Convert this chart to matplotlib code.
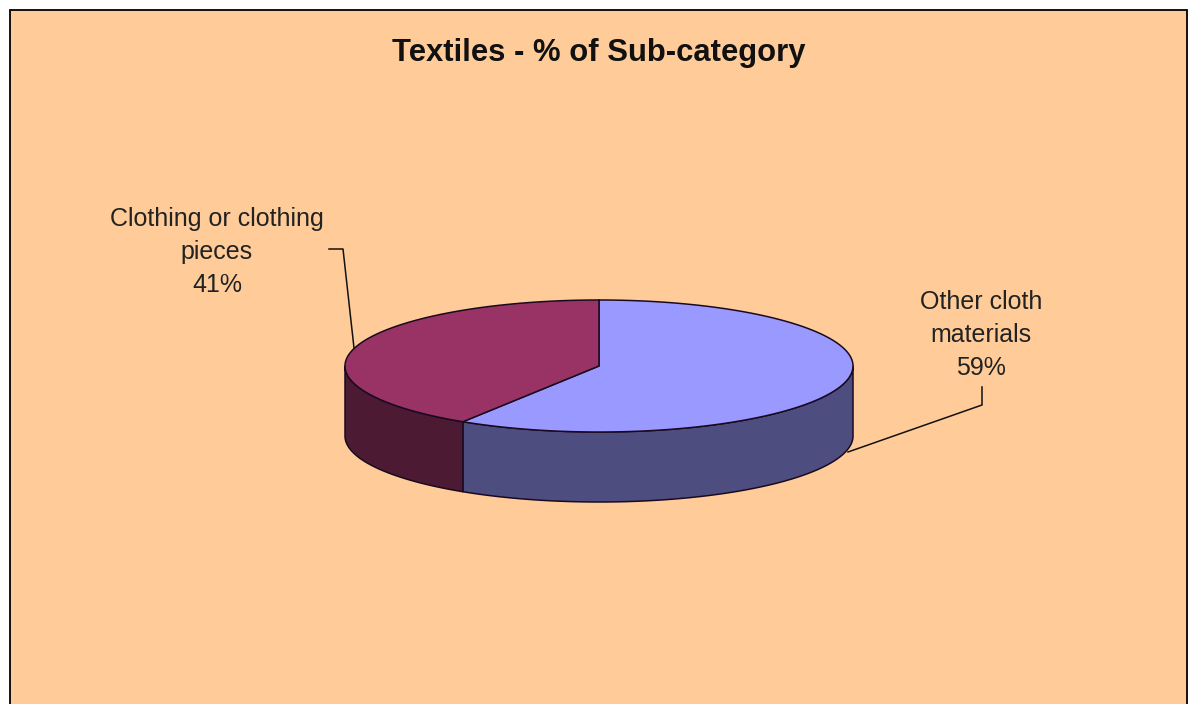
import numpy as np
import matplotlib
matplotlib.use("Agg")
import matplotlib.pyplot as plt
from matplotlib.patches import Rectangle

title = "Textiles - % of Sub-category"
categories = ["Other cloth\nmaterials", "Clothing or clothing\npieces"]
values = [59, 41]
top_colors = ["#9999FF", "#993366"]
side_colors = ["#4D4D80", "#4D1A33"]

W, H = 1190, 704
CX, CY, RX, RY, DEPTH = 599, 366, 254, 66, 70
fig = plt.figure(figsize=(W / 100, H / 100), dpi=100, facecolor="white")
ax = fig.add_axes([0, 0, 1, 1])
ax.set_xlim(0, W)
ax.set_ylim(H, 0)
ax.axis("off")
ax.add_patch(Rectangle((10, 10), 1177, 720, fc="#FFCC99", ec="black", lw=1.3, zorder=0))

fracs = np.array(values) / sum(values)
edges = np.pi / 2 - 2 * np.pi * np.concatenate([[0], np.cumsum(fracs)])

def px(a, r=1.0):
    return CX + RX * r * np.cos(a), CY - RY * r * np.sin(a)

# side walls (visible only for the lower half of the ellipse)
for i in range(len(values)):
    a0, a1 = edges[i], edges[i + 1]
    lo, hi = max(min(a0, a1), -np.pi), min(max(a0, a1), 0)
    if hi <= lo:
        continue
    t = np.linspace(lo, hi, 200)
    x, y = px(t)
    xs = np.r_[x, x[::-1]]
    ys = np.r_[y, y[::-1] + DEPTH]
    ax.fill(xs, ys, fc=side_colors[i], ec="#1a0a20", lw=1.1, zorder=2, joinstyle="round")

# top faces
for i in range(len(values)):
    t = np.linspace(edges[i], edges[i + 1], 300)
    x, y = px(t)
    ax.fill(np.r_[CX, x], np.r_[CY, y], fc=top_colors[i], ec="#1a0a20", lw=1.1, zorder=3)

font = ["Liberation Sans", "DejaVu Sans"]
ax.text(599, 53, title, ha="center", va="center", fontsize=22.3, fontweight="bold",
        family=font, color="#111111", zorder=5)

ax.text(981, 335, f"{categories[0]}\n{values[0]}%", ha="center", va="center", fontsize=18,
        family=font, color="#222222", linespacing=1.47, zorder=5)
ax.text(217, 252, f"{categories[1]}\n{values[1]}%", ha="center", va="center", fontsize=18,
        family=font, color="#222222", linespacing=1.47, zorder=5)

# leader lines
ax.plot([982, 982, 848], [387, 405, 452], color="#111111", lw=1.1, zorder=4)
ax.plot([329, 343, 354], [249, 249, 348], color="#111111", lw=1.1, zorder=4)

fig.savefig("out.png", dpi=100, facecolor="white")
